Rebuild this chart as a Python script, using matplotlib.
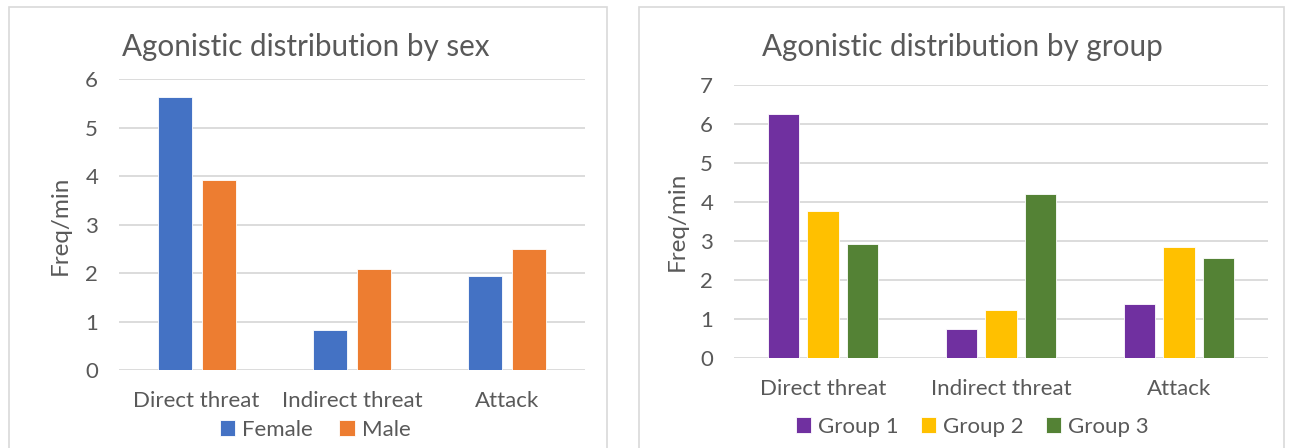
import matplotlib
matplotlib.use("Agg")
import matplotlib.pyplot as plt
import numpy as np
from matplotlib.patches import Rectangle

plt.rcParams['font.family'] = ['Lato', 'DejaVu Sans']

categories = ["Direct threat", "Indirect threat", "Attack"]

sex_series = ["Female", "Male"]
female = [5.63, 0.83, 1.94]
male = [3.91, 2.08, 2.49]
sex_colors = ["#4472C4", "#ED7D31"]

group_series = ["Group 1", "Group 2", "Group 3"]
group1 = [6.25, 0.74, 1.39]
group2 = [3.78, 1.24, 2.85]
group3 = [2.93, 4.20, 2.56]
group_colors = ["#7030A0", "#FFC000", "#548235"]

W, H = 1291, 448
fig = plt.figure(figsize=(W / 100, H / 100), dpi=100)
TXT = "#595959"
GRID = "#D9D9D9"

# panel borders
for x0, x1 in [(9, 607), (639, 1284)]:
    fig.add_artist(Rectangle((x0 / W, -0.05), (x1 - x0) / W, 1.05 - 7 / H,
                             transform=fig.transFigure, fill=False,
                             edgecolor="#D9D9D9", linewidth=1.2))


def make_ax(px_left, px_right, px_top, px_bottom):
    return fig.add_axes([px_left / W, (H - px_bottom) / H,
                         (px_right - px_left) / W, (px_bottom - px_top) / H])


def style(ax, ymax, title, title_x, ylab_x, ylab_y):
    ax.set_ylim(0, ymax)
    ax.set_xlim(-0.5, 2.5)
    ax.set_yticks(range(ymax + 1))
    ax.yaxis.grid(True, color=GRID, linewidth=1.3)
    ax.set_axisbelow(True)
    for s in ax.spines.values():
        s.set_visible(False)
    ax.tick_params(axis='both', length=0, labelsize=16, colors=TXT)
    ax.tick_params(axis='y', pad=15)
    ax.tick_params(axis='x', pad=15)
    ax.set_xticks(range(len(categories)))
    ax.set_xticklabels(categories)
    fig.text(ylab_x / W, 1 - ylab_y / H, "Freq/min", fontsize=17.5, color=TXT,
             rotation=90, ha="center", va="center")
    fig.text(title_x / W, 1 - 47 / H, title, fontsize=21.3, color=TXT,
             ha="center", va="center")


# Left chart
ax1 = make_ax(119, 585, 79, 370)
x = np.arange(len(categories))
bw = 0.22
step = 0.284
for i, (vals, lab, c) in enumerate(zip([female, male], sex_series, sex_colors)):
    ax1.bar(x + (i - 0.5) * step, vals, width=bw, color=c, label=lab,
            edgecolor="white", linewidth=0.6)
style(ax1, 6, "Agonistic distribution by sex", 306, 60, 225)
ax1.legend(loc="center", bbox_to_anchor=((315 - 119) / 466, (370 - 430) / 291),
           ncol=2, frameon=False, fontsize=16, labelcolor=TXT,
           handlelength=0.7, handleheight=0.7, handletextpad=0.3,
           columnspacing=1.2)

# Right chart
ax2 = make_ax(734, 1268, 85, 358)
bw2 = 0.176
step2 = 0.222
for i, (vals, lab, c) in enumerate(zip([group1, group2, group3], group_series, group_colors)):
    ax2.bar(x + (i - 1) * step2, vals, width=bw2, color=c, label=lab,
            edgecolor="white", linewidth=0.6)
style(ax2, 7, "Agonistic distribution by group", 962, 677, 221)
ax2.legend(loc="center", bbox_to_anchor=((972 - 734) / 534, (358 - 427) / 273),
           ncol=3, frameon=False, fontsize=16, labelcolor=TXT,
           handlelength=0.7, handleheight=0.7, handletextpad=0.3,
           columnspacing=1.0)

fig.savefig("out.png", dpi=100)
